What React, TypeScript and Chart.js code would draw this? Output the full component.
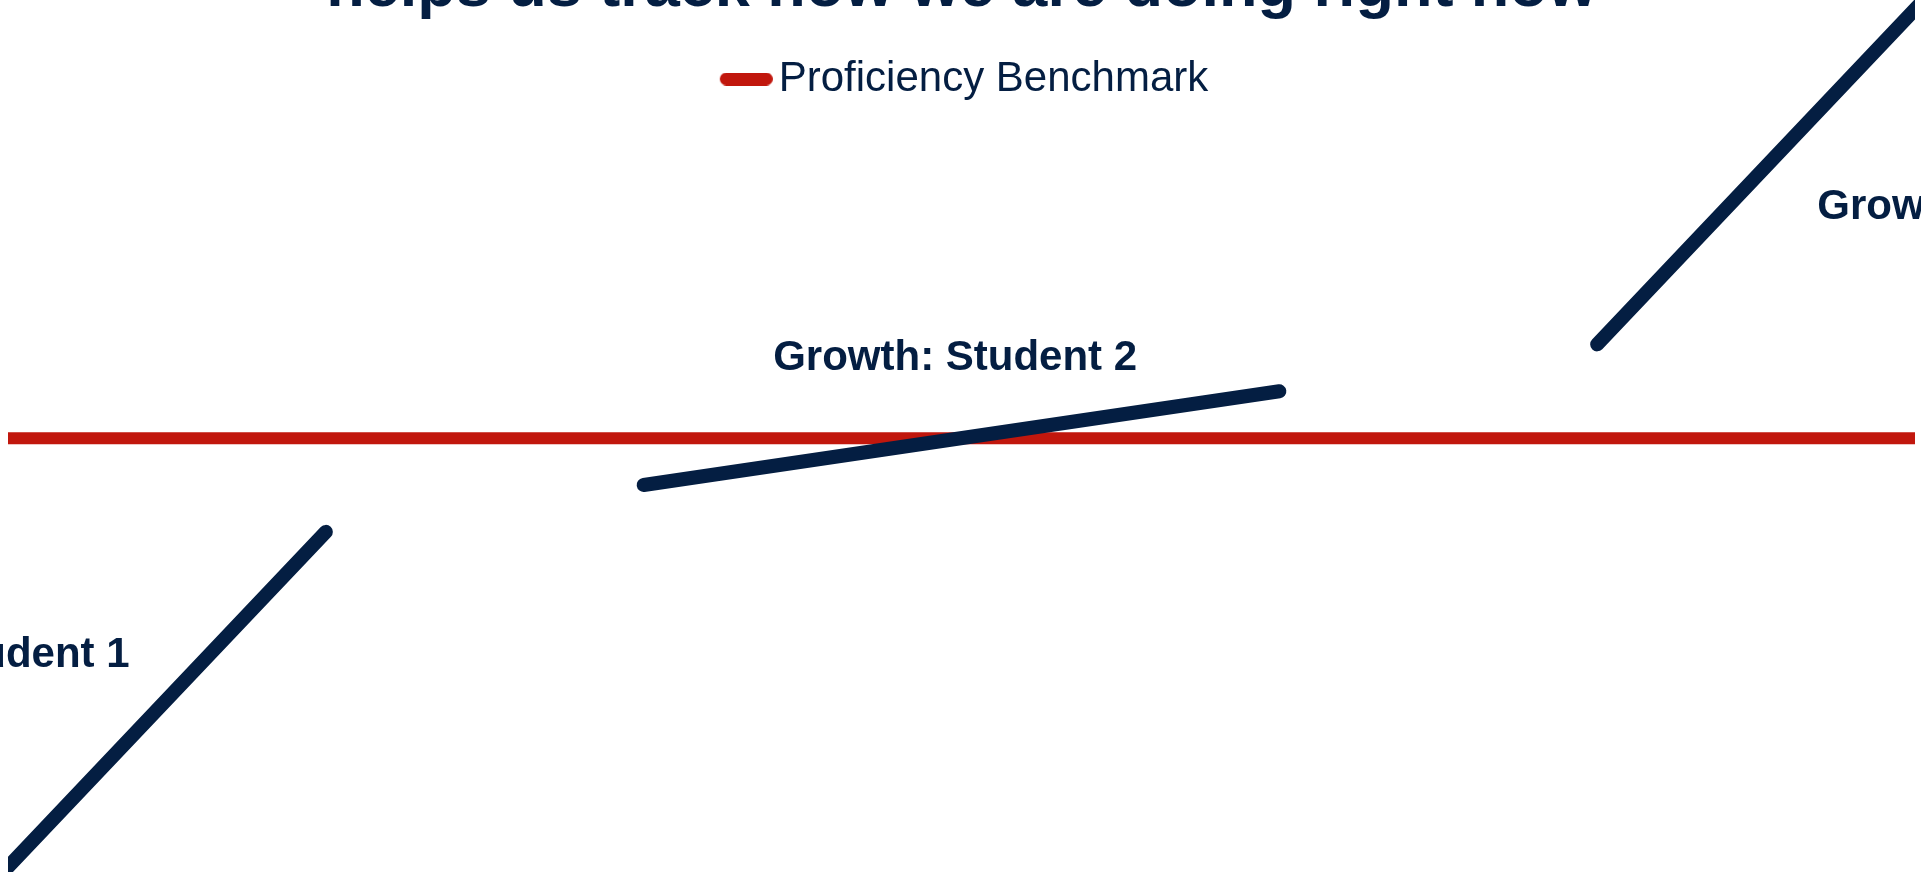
import React, { useEffect, useRef } from 'react';
import { Chart, registerables } from 'chart.js';

Chart.register(...registerables);

// ---- Data ----
const TITLE = 'helps us track how we are doing right now';
const BENCHMARK_LABEL = 'Proficiency Benchmark';
const benchmarkX = [0, 12];
const benchmarkY = [0, 0];
const studentNames = ['Growth: Student 1', 'Growth: Student 2', 'Growth: Student 3'];
const studentStartX = [-2, 4, 10];
const studentEndX = [2, 8, 14];
const studentStartY = [-16.3, -1, 2];
const studentEndY = [-2, 1, 16.3];
const labelX = [-0.38, 5.96, 12.53];
const labelY = [-4.89, 1.46, 4.68];
const X_MIN = 0;
const X_MAX = 12;
const Y_MIN = -9;
const Y_MAX = 7;

// ---- Styles ----
const NAVY = '#041e42';
const RED = '#c1170d';
const FONT = "'Liberation Sans', Arial, Helvetica, sans-serif";

const studentLabelPlugin = {
  id: 'studentLabels',
  afterDatasetsDraw(chart: any) {
    const { ctx, scales } = chart;
    const xs = scales.x;
    const ys = scales.y;
    ctx.save();
    ctx.font = `bold 42px ${FONT}`;
    ctx.fillStyle = NAVY;
    ctx.textAlign = 'center';
    ctx.textBaseline = 'alphabetic';
    studentNames.forEach((t, i) => {
      ctx.fillText(t, xs.getPixelForValue(labelX[i]), ys.getPixelForValue(labelY[i]));
    });
    ctx.restore();
  },
};

function makePill(): HTMLCanvasElement {
  const c = document.createElement('canvas');
  c.width = 73;
  c.height = 13;
  const g = c.getContext('2d') as CanvasRenderingContext2D;
  g.fillStyle = RED;
  g.beginPath();
  if ((g as any).roundRect) {
    (g as any).roundRect(20, 0, 53, 13, 6.5);
  } else {
    g.rect(20, 0, 53, 13);
  }
  g.fill();
  return c;
}

export default function App() {
  const ref = useRef<HTMLCanvasElement>(null);

  useEffect(() => {
    if (!ref.current) return;
    const students = studentNames.map((name, i) => ({
      label: name,
      data: [
        { x: studentStartX[i], y: studentStartY[i] },
        { x: studentEndX[i], y: studentEndY[i] },
      ],
      borderColor: NAVY,
      backgroundColor: NAVY,
      borderWidth: 14,
      borderCapStyle: 'round',
      pointRadius: 0,
      pointHoverRadius: 0,
      clip: { left: 0, right: 0, top: false, bottom: false },
      order: 1,
    }));
    const bench = {
      label: BENCHMARK_LABEL,
      data: benchmarkX.map((x, i) => ({ x, y: benchmarkY[i] })),
      borderColor: RED,
      backgroundColor: RED,
      borderWidth: 12,
      borderCapStyle: 'butt',
      pointRadius: 0,
      pointHoverRadius: 0,
      order: 2,
    };
    const chart = new Chart(ref.current, {
      type: 'line',
      data: { datasets: [bench, ...students] as any },
      options: {
        animation: false,
        responsive: true,
        maintainAspectRatio: false,
        events: [],
        layout: { padding: { top: -59.6, left: 8, right: 6, bottom: 12 } },
        scales: {
          x: { type: 'linear', min: X_MIN, max: X_MAX, display: false },
          y: { type: 'linear', min: Y_MIN, max: Y_MAX, display: false },
        },
        plugins: {
          tooltip: { enabled: false },
          title: {
            display: true,
            text: TITLE,
            color: NAVY,
            font: { family: FONT, size: 63, weight: 'bold' },
            padding: { top: 10, bottom: 22 },
          },
          legend: {
            display: true,
            position: 'top',
            labels: {
              filter: (item: any) => item.text === BENCHMARK_LABEL,
              usePointStyle: true,
              pointStyle: makePill(),
              pointStyleWidth: 43,
              color: NAVY,
              font: { family: FONT, size: 42 },
              padding: 10,
            },
          },
        },
      } as any,
      plugins: [studentLabelPlugin],
    });
    return () => chart.destroy();
  }, []);

  return (
    <div
      style={{
        position: 'fixed',
        left: 0,
        top: 0,
        width: '100vw',
        height: '100vh',
        background: '#ffffff',
      }}
    >
      <canvas ref={ref} />
    </div>
  );
}
